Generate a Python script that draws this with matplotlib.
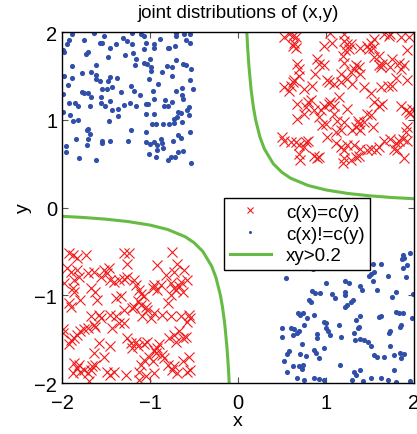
import numpy as np
import matplotlib
matplotlib.use("Agg")
import matplotlib.pyplot as plt

plt.rcParams['font.family'] = ['Liberation Sans', 'DejaVu Sans']

# c(x)=c(y), upper right
same_ur = [(0.52,1.94),(0.58,1.98),(0.62,1.96),(0.655,1.94),(0.64,1.88),(0.655,1.82),(0.62,1.84),(1.05,1.99),(1.07,1.88),(0.98,1.84),
    (1.20,1.98),(1.20,1.90),(1.24,1.86),(1.28,1.86),(1.26,1.81),(1.22,1.79),(1.19,1.73),(1.39,1.82),(1.47,1.84),(1.51,1.88),
    (1.545,1.92),(1.53,1.82),(1.49,1.81),(1.60,1.73),(1.545,1.71),(1.66,1.98),(1.72,1.96),(1.73,1.98),(1.85,1.94),(1.94,1.94),
    (1.92,1.79),(0.67,1.64),(0.69,1.58),(0.90,1.69),(0.92,1.64),(0.98,1.62),(0.88,1.52),(1.20,1.65),(1.32,1.58),(1.34,1.62),
    (1.375,1.60),(1.28,1.54),(1.39,1.52),(1.24,1.465),(1.17,1.52),(1.64,1.64),(1.62,1.60),(1.60,1.62),(1.75,1.69),(1.73,1.60),
    (1.83,1.65),(1.85,1.58),(1.89,1.62),(1.79,1.48),(1.92,1.45),(0.62,1.43),(0.64,1.45),(0.52,1.37),(0.58,1.33),(0.60,1.39),
    (0.69,1.50),(0.75,1.35),(0.84,1.39),(1.015,1.45),(1.03,1.43),(1.09,1.41),(1.17,1.43),(1.30,1.41),(1.43,1.37),(1.51,1.31),
    (1.62,1.37),(1.70,1.39),(1.75,1.39),(1.15,1.26),(0.79,1.20),(0.83,1.22),(1.05,1.20),(1.03,1.18),(0.98,1.16),(0.67,1.18),
    (0.77,1.14),(0.75,1.07),(0.86,1.11),(0.94,1.11),(1.09,1.16),(1.24,1.12),(1.545,1.20),(1.60,1.16),(1.64,1.18),(1.85,1.16),
    (1.905,1.11),(1.94,1.09),(1.96,1.07),(1.98,1.12),(0.67,1.01),(0.92,1.03),(0.96,0.935),(0.995,0.95),(1.09,1.07),(1.13,0.99),
    (1.20,0.97),(1.36,0.99),(1.375,0.95),(1.34,0.92),(1.43,0.97),(1.30,0.88),(1.39,0.88),(1.47,1.07),(1.51,1.05),(1.53,0.92),
    (1.17,0.88),(1.11,0.86),(1.015,0.80),(1.92,0.92),(1.905,0.86),(0.50,0.80),(0.52,0.76),(0.60,0.75),(0.655,0.75),(0.69,0.71),
    (0.77,0.75),(0.79,0.76),(0.75,0.69),(0.69,0.61),(0.71,0.54),(0.86,0.59),(0.92,0.575),(0.90,0.56),(1.11,0.73),(1.17,0.69),
    (1.20,0.65),(1.24,0.71),(1.32,0.71),(1.39,0.67),(1.47,0.65),(1.51,0.67),(1.565,0.66),(1.60,0.69),(1.66,0.76),(1.73,0.78),
    (1.79,0.73),(1.83,0.76),(1.87,0.78),(1.92,0.76),(1.77,0.67),(1.81,0.65),(1.89,0.56),(1.20,0.56),(1.28,0.54),(1.34,0.575),
    (1.375,0.59),(1.19,0.51)]

# c(x)=c(y), lower left
same_ll = [(-1.92,-0.52),(-1.88,-0.54),(-1.825,-0.58),(-1.73,-0.54),(-1.295,-0.52),(-1.24,-0.52),(-1.26,-0.64),(-0.745,-0.51),
    (-0.69,-0.64),(-0.916,-0.655),(-0.82,-0.77),(-0.73,-0.73),(-0.61,-0.71),(-0.575,-0.825),(-0.65,-0.845),(-1.94,-0.69),
    (-1.90,-0.73),(-1.825,-0.71),(-1.81,-0.79),(-1.86,-0.825),(-1.71,-0.75),(-1.635,-0.73),(-1.52,-0.71),(-1.485,-0.75),
    (-1.465,-0.69),(-1.56,-0.79),(-1.45,-0.825),(-1.41,-0.845),(-1.35,-0.825),(-1.295,-0.81),(-1.26,-0.79),(-1.18,-0.825),
    (-1.98,-0.86),(-1.88,-0.92),(-1.86,-0.96),(-1.67,-0.92),(-1.62,-0.96),(-1.60,-1.05),(-1.79,-1.05),(-1.92,-1.09),
    (-1.90,-1.13),(-1.39,-1.03),(-1.33,-1.01),(-1.295,-1.17),(-1.20,-1.15),(-1.16,-0.88),(-1.12,-0.94),(-1.105,-0.98),
    (-1.07,-1.01),(-1.14,-1.07),(-1.105,-1.11),(-1.18,-1.13),(-1.05,-1.13),(-1.03,-1.17),(-0.97,-0.92),(-0.95,-0.88),
    (-0.916,-0.94),(-0.88,-0.88),(-0.765,-0.86),(-0.73,-0.92),(-0.71,-0.94),(-0.67,-0.90),(-0.63,-0.96),(-0.765,-0.996),
    (-0.80,-1.09),(-0.86,-1.22),(-0.95,-1.20),(-1.09,-1.24),(-0.99,-1.26),(-0.765,-1.24),(-0.65,-1.24),(-0.56,-1.22),
    (-0.575,-1.30),(-0.54,-1.26),(-1.67,-1.24),(-1.58,-1.22),(-1.56,-1.26),(-1.635,-1.34),(-1.62,-1.36),(-1.71,-1.375),
    (-1.75,-1.39),(-1.79,-1.41),(-1.825,-1.45),(-1.86,-1.49),(-1.90,-1.51),(-1.99,-1.39),(-1.99,-1.43),(-1.92,-1.56),
    (-1.43,-1.375),(-1.295,-1.32),(-1.35,-1.32),(-1.39,-1.24),(-1.45,-1.22),(-1.58,-1.54),(-1.635,-1.66),(-1.52,-1.70),
    (-1.45,-1.58),(-1.26,-1.49),(-1.22,-1.545),(-1.16,-1.53),(-1.14,-1.58),(-1.20,-1.60),(-1.07,-1.56),(-1.03,-1.53),
    (-0.95,-1.62),(-0.916,-1.60),(-0.90,-1.56),(-0.86,-1.68),(-0.935,-1.66),(-1.01,-1.70),(-1.07,-1.735),(-1.105,-1.79),
    (-0.97,-1.75),(-0.84,-1.715),(-0.80,-1.79),(-0.78,-1.49),(-0.73,-1.45),(-0.71,-1.53),(-0.63,-1.49),(-0.59,-1.47),
    (-0.67,-1.41),(-0.56,-1.70),(-0.63,-1.75),(-0.73,-1.81),(-0.69,-1.89),(-0.745,-1.85),(-0.575,-1.87),(-0.54,-1.85),
    (-1.86,-1.77),(-1.825,-1.83),(-1.79,-1.87),(-1.75,-1.85),(-1.71,-1.89),(-1.81,-1.79),(-1.655,-1.81),(-1.62,-1.79),
    (-1.675,-1.85),(-1.485,-1.87),(-1.45,-1.905),(-1.41,-1.87),(-1.275,-1.905),(-1.125,-1.96),(-1.05,-1.92),(-1.125,-1.87),
    (-0.95,-1.89),(-1.69,-1.98),(-1.88,-1.89)]

# c(x)!=c(y), upper left
diff_ul = [(-1.89,1.98),(-1.64,1.99),(-1.52,1.96),(-1.21,1.99),(-1.10,1.98),(-0.71,1.99),(-0.70,1.95),(-0.61,1.98),(-0.54,1.98),
    (-1.92,1.91),(-1.94,1.86),(-1.75,1.91),(-1.57,1.87),(-1.54,1.88),(-1.31,1.93),(-1.26,1.90),(-1.07,1.95),(-1.05,1.88),
    (-0.95,1.86),(-0.89,1.92),(-0.59,1.91),(-0.54,1.88),(-1.99,1.79),(-1.98,1.77),(-1.71,1.77),(-1.73,1.75),(-1.45,1.82),
    (-1.39,1.86),(-1.20,1.86),(-1.07,1.81),(-0.95,1.82),(-0.80,1.82),(-0.78,1.82),(-0.72,1.84),(-1.48,1.72),(-1.28,1.74),
    (-1.19,1.76),(-1.16,1.69),(-1.17,1.62),(-1.07,1.65),(-1.03,1.64),(-1.00,1.69),(-0.99,1.60),(-1.89,1.61),(-1.61,1.62),
    (-1.67,1.55),(-1.77,1.53),(-1.98,1.50),(-1.89,1.48),(-1.93,1.40),(-1.61,1.51),(-1.57,1.44),(-1.61,1.46),(-1.48,1.44),
    (-1.45,1.49),(-1.38,1.48),(-1.49,1.35),(-1.55,1.35),(-1.75,1.31),(-1.71,1.31),(-1.77,1.32),(-1.68,1.16),(-1.56,1.26),
    (-1.67,1.26),(-1.82,1.16),(-1.85,1.19),(-1.92,1.19),(-1.91,1.05),(-1.87,0.99),(-1.82,1.00),(-1.99,1.29),(-1.99,1.09),
    (-1.43,1.37),(-1.33,1.32),(-1.22,1.39),(-1.18,1.33),(-1.01,1.46),(-0.99,1.56),(-0.97,1.33),(-1.11,1.28),(-1.04,1.18),
    (-1.16,1.16),(-1.23,1.19),(-1.30,1.17),(-1.36,1.12),(-1.43,1.11),(-1.45,1.21),(-1.51,1.16),(-1.56,1.19),(-0.91,1.41),
    (-0.86,1.54),(-0.81,1.61),(-0.75,1.60),(-0.75,1.50),(-0.71,1.68),(-0.62,1.63),(-0.59,1.62),(-0.53,1.58),(-0.51,1.35),
    (-0.55,1.45),(-0.64,1.36),(-0.70,1.33),(-0.64,1.28),(-0.63,1.24),(-0.75,1.20),(-0.79,1.16),(-0.84,1.16),(-0.83,1.23),
    (-0.95,1.24),(-1.02,1.18),(-1.05,1.07),(-0.95,1.07),(-0.98,0.95),(-0.93,0.95),(-0.85,0.95),(-0.78,0.95),(-0.73,1.01),
    (-0.68,1.09),(-0.69,1.03),(-0.65,1.08),(-0.58,1.11),(-0.56,1.14),(-0.56,1.05),(-0.73,0.96),(-0.64,0.97),(-1.47,0.99),
    (-1.36,1.04),(-1.22,0.88),(-1.05,0.86),(-1.72,0.88),(-1.70,0.90),(-1.68,0.84),(-1.71,0.78),(-1.72,0.71),(-1.84,0.78),
    (-1.55,0.76),(-1.54,0.74),(-1.45,0.76),(-1.25,0.76),(-1.05,0.75),(-1.00,0.72),(-0.96,0.75),(-0.92,0.71),(-0.87,0.78),
    (-0.86,0.73),(-0.85,0.68),(-0.92,0.65),(-1.01,0.61),(-0.93,0.57),(-0.80,0.54),(-0.76,0.58),(-0.72,0.57),(-0.68,0.63),
    (-0.62,0.64),(-0.54,0.86),(-0.53,0.51),(-0.65,0.79),(-0.68,0.83),(-0.74,0.76),(-1.95,0.70),(-1.96,0.63),(-1.81,0.56),
    (-1.61,0.54)]

# c(x)!=c(y), lower right
diff_lr = [(1.87,-0.54),(1.89,-0.57),(1.95,-0.52),(1.86,-0.59),(1.92,-0.66),(1.87,-0.69),(1.53,-0.64),(1.62,-0.64),(1.54,-0.74),
    (1.515,-0.76),(1.49,-0.78),(1.70,-0.78),(1.91,-0.79),(1.53,-0.84),(1.39,-0.90),(1.41,-0.94),(1.58,-0.94),(0.996,-0.86),
    (1.22,-0.84),(1.26,-0.86),(0.84,-0.95),(0.88,-0.97),(0.93,-0.97),(1.07,-0.98),(1.10,-1.03),(1.22,-0.96),(1.22,-0.996),
    (1.31,-1.05),(1.28,-1.08),(1.24,-1.11),(1.22,-1.13),(0.81,-1.05),(0.83,-1.08),(1.79,-0.96),(1.75,-1.02),(1.99,-0.98),
    (0.68,-1.20),(0.71,-1.22),(0.74,-1.20),(0.78,-1.26),(0.86,-1.22),(0.75,-1.34),(0.98,-1.30),(0.996,-1.32),(0.996,-1.37),
    (1.02,-1.41),(1.05,-1.45),(1.15,-1.34),(1.34,-1.28),(1.39,-1.24),(1.36,-1.37),(1.37,-1.36),(1.32,-1.43),(1.62,-1.24),
    (1.60,-1.25),(1.79,-1.19),(1.83,-1.20),(1.87,-1.20),(1.98,-1.26),(1.85,-1.34),(1.84,-1.36),(0.50,-1.37),(0.50,-1.48),
    (0.60,-1.37),(0.64,-1.39),(0.63,-1.45),(0.67,-1.43),(0.69,-1.41),(0.90,-1.44),(0.90,-1.49),(1.17,-1.47),(1.33,-1.51),
    (1.39,-1.50),(1.43,-1.51),(1.48,-1.53),(1.73,-1.41),(1.72,-1.43),(0.73,-1.55),(0.98,-1.60),(0.86,-1.62),(0.89,-1.66),
    (0.92,-1.72),(0.58,-1.64),(0.56,-1.67),(0.71,-1.67),(0.77,-1.69),(1.51,-1.58),(1.55,-1.68),(1.58,-1.70),(1.66,-1.70),
    (1.73,-1.58),(1.77,-1.68),(1.84,-1.66),(1.89,-1.67),(1.85,-1.72),(0.52,-1.75),(0.56,-1.87),(0.62,-1.81),(0.69,-1.81),
    (0.73,-1.84),(0.74,-1.79),(0.67,-1.94),(0.75,-1.96),(0.86,-1.94),(0.92,-1.95),(0.98,-1.96),(1.16,-1.79),(1.32,-1.87),
    (1.34,-1.91),(1.39,-1.85),(1.30,-1.96),(1.42,-1.98),(1.51,-1.94),(1.63,-1.94),(1.70,-1.96),(1.79,-1.99),(1.96,-1.98),
    (1.77,-1.85),(0.62,-0.62),(0.85,-0.70),(1.10,-0.58),(0.55,-0.80),(1.30,-0.66)]

# boundary xy = 0.2
curve_x = [0.1, 0.11, 0.125, 0.15, 0.175, 0.2, 0.25, 0.3, 0.4, 0.5, 0.6, 0.8, 1.0, 1.25, 1.5, 1.75, 2.0]
curve_y = [2.0, 1.818, 1.6, 1.333, 1.143, 1.0, 0.8, 0.667, 0.5, 0.4, 0.333, 0.25, 0.2, 0.16, 0.133, 0.114, 0.1]

red = '#f01c1c'
blue = '#2f4fa8'
green = '#66bb44'

fig = plt.figure(figsize=(4.17, 4.35), dpi=100)
ax = fig.add_axes([0.1487, 0.1172, 0.8441, 0.8069])

sx = [p[0] for p in same_ur + same_ll]
sy = [p[1] for p in same_ur + same_ll]
dx = [p[0] for p in diff_ul + diff_lr]
dy = [p[1] for p in diff_ul + diff_lr]

ax.plot(sx, sy, 'x', color=red, markersize=7, markeredgewidth=0.8, label='c(x)=c(y)')
ax.plot(dx, dy, 'o', color=blue, markersize=3.7, markeredgewidth=0, label='c(x)!=c(y)')
ax.plot(curve_x, curve_y, '-', color=green, linewidth=2.2, label='xy>0.2')
ax.plot([-v for v in curve_x], [-v for v in curve_y], '-', color=green, linewidth=2.2)

ax.set_xlim(-2, 2)
ax.set_ylim(-2, 2)
ax.set_xticks([-2, -1, 0, 1, 2])
ax.set_yticks([-2, -1, 0, 1, 2])
ax.tick_params(direction='in', top=True, right=True, labelsize=14.5, length=4, color='#555555')
ax.tick_params(axis='x', pad=7.5)
for s in ax.spines.values():
    s.set_linewidth(1.0)

ax.set_title('joint distributions of (x,y)', fontsize=13.5, pad=11)
ax.set_xlabel('x', fontsize=14, labelpad=0)
ax.set_ylabel('y', fontsize=14, labelpad=2)

leg = ax.legend(loc='upper left', bbox_to_anchor=(0.46, 0.527), fontsize=13.5,
                frameon=True, fancybox=False, edgecolor='black', framealpha=1,
                markerscale=0.6, handlelength=2.2, borderaxespad=0, borderpad=0.3,
                labelspacing=0.25, handletextpad=0.8)
leg.get_frame().set_linewidth(1.0)

fig.savefig('out.png', dpi=100)
